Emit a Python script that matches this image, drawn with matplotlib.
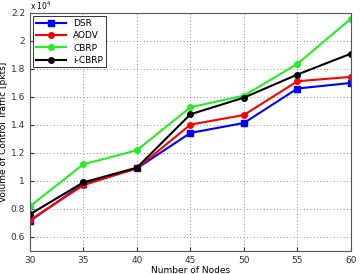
import matplotlib
matplotlib.use("Agg")
import matplotlib.pyplot as plt
from matplotlib.ticker import FuncFormatter

nodes = [30, 35, 40, 45, 50, 55, 60]
dsr = [7140, 9800, 10900, 13430, 14140, 16600, 17000]
aodv = [7200, 9700, 10900, 14020, 14710, 17120, 17430]
cbrp = [8190, 11190, 12190, 15260, 16090, 18360, 21590]
icbrp = [7620, 9900, 10950, 14760, 15950, 17600, 19090]
series = [("DSR", dsr, "#0000ff", "s", 5), ("AODV", aodv, "#ff0000", "o", 4),
          ("CBRP", cbrp, "#22ee22", "o", 4), ("i-CBRP", icbrp, "#000000", "o", 4)]

fig = plt.figure(figsize=(3.6, 2.74), dpi=100)
ax = fig.add_axes([0.083, 0.084, 0.892, 0.869])
for name, vals, c, m, ms in series:
    ax.plot(nodes, vals, color=c, marker=m, markersize=ms, linewidth=1.5, label=name)

ax.set_xlim(30, 60)
ax.set_ylim(5000, 22000)
ax.set_xticks(nodes)
ax.set_yticks([6000, 8000, 10000, 12000, 14000, 16000, 18000, 20000, 22000])
ax.yaxis.set_major_formatter(FuncFormatter(lambda v, p: f"{v/1e4:g}"))
ax.grid(True, linestyle=(0, (1, 3)), color="#666666", linewidth=0.6)
ax.tick_params(direction="in", labelsize=6.5, colors="#333333", length=3)
for s in ax.spines.values():
    s.set_color("#555555")
    s.set_linewidth(0.8)
ax.set_xlabel("Number of Nodes", fontsize=6.5, labelpad=1)
ax.set_ylabel("Volume of Control Traffic [pkts]", fontsize=6.5, labelpad=2)
ax.text(0.0, 1.005, "x 10$^4$", transform=ax.transAxes, fontsize=5.5, va="bottom", ha="left")
leg = ax.legend(loc="upper left", fontsize=6.5, fancybox=False, framealpha=1,
                edgecolor="#333333", handlelength=3.3, borderpad=0.3, labelspacing=0.35,
                borderaxespad=0.4)
leg.get_frame().set_linewidth(0.7)
fig.savefig("out.png", dpi=100)
